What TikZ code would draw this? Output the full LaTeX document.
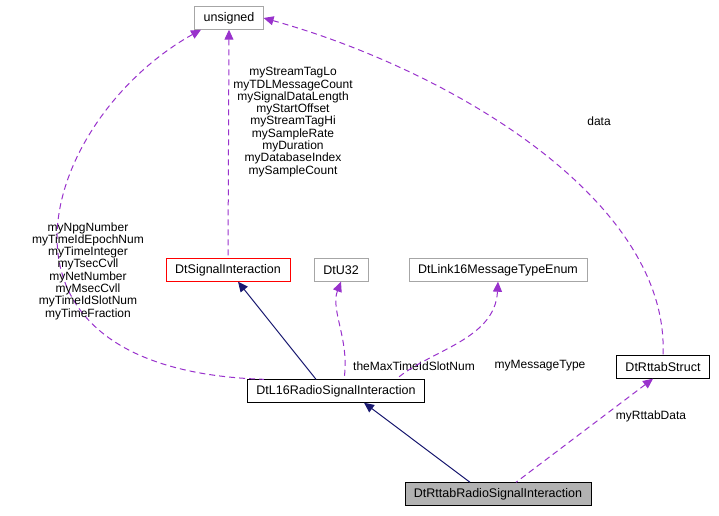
\documentclass[tikz,border=0pt]{standalone}
\usepackage{fontspec}
\setmainfont{Liberation Sans}
\usetikzlibrary{arrows.meta}
\definecolor{edgenavy}{RGB}{25,25,112}
\definecolor{edgepurple}{RGB}{153,50,204}
\tikzset{
	box/.style={draw=black, fill=white, minimum height=23pt, inner xsep=9pt, font=\fontsize{12.5}{13}\selectfont},
	grey box/.style={box, draw=gray!70},
	inherit/.style={edgenavy, line width=1pt, {Triangle[length=10pt,width=9pt]}-},
	usage/.style={edgepurple, line width=1pt, dash pattern=on 6pt off 4pt, {Triangle[length=10pt,width=9pt]}-},
	lbl/.style={align=center, font=\fontsize{12}{12.3}\selectfont}
}
\begin{document}
\begin{tikzpicture}[x=1pt,y=-1pt]
	\useasboundingbox (0,0) rectangle (719,515);
	\node[grey box] (uns) at (229,18) {unsigned};
	\node[box, draw=red] (dsi) at (228,270) {DtSignalInteraction};
	\node[grey box] (u32) at (341,270) {DtU32};
	\node[grey box] (enum) at (498,270) {DtLink16MessageTypeEnum};
	\node[box] (rst) at (663,367) {DtRttabStruct};
	\node[box] (l16) at (336,391) {DtL16RadioSignalInteraction};
	\node[box, fill=gray!60] (rrsi) at (498,494) {DtRttabRadioSignalInteraction};
	% inheritance
	\draw[inherit] ([xshift=10pt]dsi.south) -- ([xshift=-20pt]l16.north);
	\draw[inherit] ([xshift=28pt]l16.south) -- ([xshift=-28pt]rrsi.north);
	% usage
	\draw[usage] (uns.south) -- (dsi.north);
	\node[lbl] (l1) at (293,122) {myStreamTagLo\\myTDLMessageCount\\mySignalDataLength\\myStartOffset\\myStreamTagHi\\mySampleRate\\myDuration\\myDatabaseIndex\\mySampleCount};
	\draw[usage] ([xshift=-28pt]uns.south) .. controls (40,120) and (-40,370) .. ([xshift=-72pt]l16.north);
	\node[lbl] (l2) at (88,271) {myNpgNumber\\myTimeIdEpochNum\\myTimeInteger\\myTsecCvll\\myNetNumber\\myMsecCvll\\myTimeIdSlotNum\\myTimeFraction};
	\draw[usage] (u32.south) .. controls (330,310) and (350,340) .. ([xshift=8pt]l16.north);
	\node[lbl] (l3) at (414,366) {theMaxTimeIdSlotNum};
	\draw[usage] (enum.south) .. controls (495,340) and (430,350) .. ([xshift=60pt]l16.north);
	\node[lbl] (l4) at (540,366) {myMessageType};
	\draw[usage] (uns.east) .. controls (450,70) and (670,200) .. (rst.north);
	\node[lbl] (l5) at (599,121) {data};
	\draw[usage] ([xshift=-10pt]rst.south) -- ([xshift=18pt]rrsi.north);
	\node[lbl] (l6) at (651,416) {myRttabData};
\end{tikzpicture}
\end{document}
